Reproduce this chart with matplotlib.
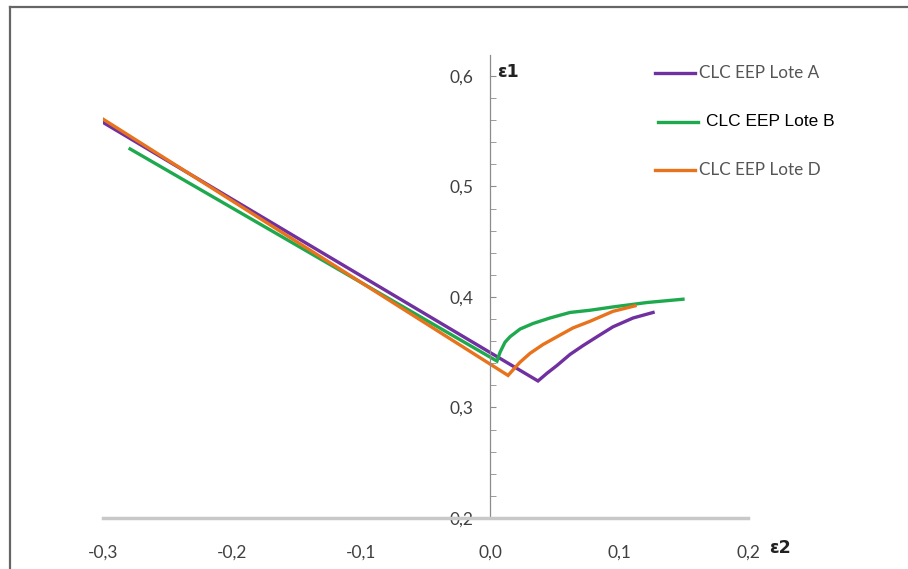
import matplotlib
matplotlib.use('Agg')
import matplotlib.pyplot as plt
from matplotlib.ticker import MultipleLocator, FuncFormatter
from matplotlib.lines import Line2D

# readings (eps2, eps1)
lote_a_x = [-0.300, 0.0372, 0.0442, 0.0519, 0.0620, 0.0721, 0.0829, 0.0953, 0.1109, 0.1264]
lote_a_y = [0.558, 0.324, 0.331, 0.338, 0.348, 0.356, 0.364, 0.373, 0.381, 0.386]
lote_b_x = [-0.279, 0.0054, 0.0078, 0.0116, 0.0155, 0.0233, 0.0333, 0.0465, 0.0620,
            0.0775, 0.0953, 0.1217, 0.1496]
lote_b_y = [0.534, 0.342, 0.350, 0.359, 0.364, 0.371, 0.376, 0.381, 0.386,
            0.388, 0.391, 0.395, 0.398]
lote_d_x = [-0.300, 0.0140, 0.0178, 0.0233, 0.0310, 0.0411, 0.0519, 0.0643, 0.0775,
            0.0953, 0.1124]
lote_d_y = [0.561, 0.329, 0.334, 0.341, 0.349, 0.357, 0.364, 0.372, 0.378,
            0.387, 0.392]
labels = ['CLC EEP Lote A', 'CLC EEP Lote B', 'CLC EEP Lote D']
colors = ['#7030a0', '#1fa94f', '#e8731c']

fig = plt.figure(figsize=(9.08, 5.69), dpi=100)
W, H = 908, 569
ax = fig.add_axes([103 / W, 1 - 518 / H, 645 / W, 463 / H])

ax.plot(lote_a_x, lote_a_y, color=colors[0], lw=2.4, solid_joinstyle='miter')
ax.plot(lote_b_x, lote_b_y, color=colors[1], lw=2.4, solid_joinstyle='miter')
ax.plot(lote_d_x, lote_d_y, color=colors[2], lw=2.4, solid_joinstyle='miter')

ax.set_xlim(-0.3, 0.2)
ax.set_ylim(0.2, 0.619)

for s in ['top', 'right']:
    ax.spines[s].set_visible(False)
ax.spines['left'].set_position(('data', 0))
ax.spines['left'].set_color('#8c8c8c')
ax.spines['left'].set_linewidth(0.9)
ax.spines['bottom'].set_color('#c8c8c8')
ax.spines['bottom'].set_linewidth(2.5)

fmt = FuncFormatter(lambda v, p: f'{v:.1f}'.replace('.', ','))
ax.xaxis.set_major_locator(MultipleLocator(0.1))
ax.xaxis.set_major_formatter(fmt)
ax.yaxis.set_major_locator(MultipleLocator(0.1))
ax.yaxis.set_minor_locator(MultipleLocator(0.02))
ax.yaxis.set_major_formatter(fmt)
ax.tick_params(axis='x', length=0, pad=19, labelsize=12.5, labelcolor='#404040')
ax.tick_params(axis='y', which='both', direction='in', length=4, color='#8c8c8c',
               pad=12, labelsize=12.5, labelcolor='#404040')
for t in ax.get_xticklabels() + ax.get_yticklabels():
    t.set_fontfamily('Lato')

fig.text(497 / W, 1 - 72 / H, 'ε1', ha='left', va='center', fontsize=12.5,
         fontweight='bold', color='#222222')
fig.text(769 / W, 1 - 548 / H, 'ε2', ha='left', va='center', fontsize=12.5,
         fontweight='bold', color='#222222')

# legend entries
leg_y = [73, 122, 170]
leg_x0 = [655, 658, 655]
for i in range(3):
    fig.add_artist(Line2D([leg_x0[i] / W, (leg_x0[i] + 40) / W],
                          [1 - leg_y[i] / H] * 2, color=colors[i], lw=2.4))
    if i == 1:
        fig.text(706 / W, 1 - leg_y[i] / H, labels[i], ha='left', va='center',
                 fontsize=12.5, color='black', family='Liberation Sans')
    else:
        fig.text(699 / W, 1 - leg_y[i] / H, labels[i], ha='left', va='center',
                 fontsize=12.3, color='#555555', family='Lato')

# frame lines at left and top edges
fig.add_artist(Line2D([10 / W, 10 / W], [0, 1 - 7 / H], color='#666666', lw=1.6))
fig.add_artist(Line2D([10 / W, 1], [1 - 7 / H] * 2, color='#666666', lw=1.6))

fig.savefig('out.png', dpi=100)
